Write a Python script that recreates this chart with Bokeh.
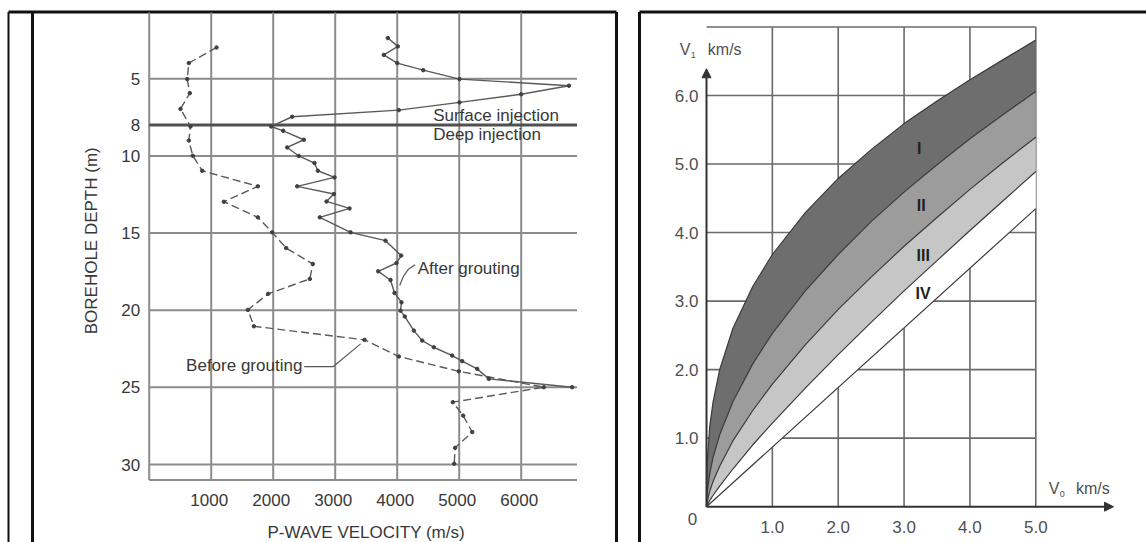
import numpy as np
from bokeh.plotting import figure
from bokeh.models import Range1d, Arrow, NormalHead
from bokeh.core.properties import value
from bokeh.embed import file_html
from bokeh.resources import INLINE

# ---------------- data: left chart (P-wave velocity vs depth) ----------------
depth_ticks = [5, 8, 10, 15, 20, 25, 30]
depth_grid = [5, 10, 15, 20, 25, 30]
injection_boundary = [8]
velocity_ticks = [1000, 2000, 3000, 4000, 5000, 6000]

before_depth = [2.97, 3.98, 5.02, 5.93, 6.95, 8.09, 9.0, 9.99, 10.96, 11.97, 12.97,
                13.98, 14.95, 15.97, 17.0, 17.97, 18.94, 19.98, 21.04, 21.92, 23.0,
                23.96, 24.99, 25.96, 26.83, 27.9, 28.92, 29.95]
before_velocity = [1086, 639, 613, 655, 505, 666, 639, 703, 855, 1752, 1204,
                   1752, 1983, 2209, 2639, 2591, 1919, 1591, 1688, 3473, 4026,
                   4994, 6365, 4897, 5064, 5210, 4935, 4919]

after_depth = [2.36, 2.9, 3.45, 3.98, 4.44, 5.02, 5.45, 6.0, 6.53, 7.03, 7.46, 8.09,
               8.37, 8.95, 9.45, 10.0, 10.46, 10.96, 11.39, 11.97, 12.47, 12.95, 13.4,
               13.98, 14.95, 15.49, 16.46, 16.94, 17.48, 18.04, 18.88, 19.49, 20.03,
               20.41, 21.32, 21.97, 22.4, 22.94, 23.3, 23.8, 24.45, 24.99]
after_velocity = [3849, 4010, 3784, 4000, 4420, 5005, 6770, 6000, 5005, 4026, 2306, 1968,
                  2161, 2494, 2226, 2413, 2666, 2720, 2989, 2387, 2978, 2860, 3231,
                  2752, 3247, 3811, 4064, 3989, 3693, 3892, 3957, 4069, 4053,
                  4123, 4268, 4403, 4590, 4887, 5048, 5290, 5477, 6822]

# ---------------- data: right chart (V1 vs V0 zones) ----------------
v0_ticks = [1.0, 2.0, 3.0, 4.0, 5.0]
v1_ticks = [1.0, 2.0, 3.0, 4.0, 5.0, 6.0]
v1_grid = [1.0, 2.0, 3.0, 4.0, 5.0, 6.0, 7.0]

boundary_v0 = [0, 0.002, 0.01, 0.05, 0.1, 0.2, 0.4, 0.7, 1.0, 1.5, 2.0, 2.5, 3.0, 3.5, 4.0, 4.5, 5.0]
top_I_v1 = [0, 0.35, 0.64, 1.18, 1.53, 2.0, 2.6, 3.21, 3.68, 4.29, 4.79, 5.21, 5.59, 5.92, 6.23, 6.52, 6.81]
I_II_v1 = [0, 0.09, 0.21, 0.49, 0.72, 1.05, 1.53, 2.08, 2.53, 3.15, 3.68, 4.16, 4.59, 4.99, 5.37, 5.72, 6.06]
II_III_v1 = [0, 0.03, 0.076, 0.23, 0.37, 0.59, 0.96, 1.4, 1.79, 2.36, 2.88, 3.35, 3.8, 4.22, 4.63, 5.02, 5.39]
III_IV_v1 = [0, 0.006, 0.023, 0.092, 0.167, 0.3, 0.55, 0.9, 1.22, 1.73, 2.22, 2.69, 3.15, 3.59, 4.03, 4.46, 4.89]
IV_low_v0 = [0, 5.0]
IV_low_v1 = [0, 4.35]

zone_names = ["I", "II", "III", "IV"]
zone_label_v0 = [3.23, 3.26, 3.29, 3.29]
zone_label_v1 = [5.23, 4.39, 3.67, 3.11]
zone_colors = ["#6e6e6e", "#9c9c9c", "#c6c6c6", "#ffffff"]

# ---------------- figure ----------------
W, H = 1146, 542
FONT = value("Liberation Sans")
TXT = "#383838"

p = figure(width=W, height=H, x_range=Range1d(0, W), y_range=Range1d(H, 0),
           output_backend="svg", toolbar_location=None, min_border=0,
           x_axis_location=None, y_axis_location=None)
p.grid.grid_line_color = None
p.outline_line_color = None
p.background_fill_color = "white"
p.border_fill_color = "white"


def pixel_range(va, pa, vb, pb, p_start, p_end):
    s = (vb - va) / (pb - pa)
    return Range1d(start=va + (p_start - pa) * s, end=va + (p_end - pa) * s)


p.extra_x_ranges = {"vel": pixel_range(0, 148.7, 6000, 520.7, 0, W),
                    "v0": pixel_range(0, 706.0, 5, 1035.3, 0, W)}
p.extra_y_ranges = {"depth": pixel_range(5, 78.3, 30, 464.0, H, 0),
                    "v1": pixel_range(0, 506.2, 6, 95.0, H, 0)}
L = dict(x_range_name="vel", y_range_name="depth")
R = dict(x_range_name="v0", y_range_name="v1")

# ---------------- panel frames ----------------
frame_x0 = [8, 32, 616, 639, 8, 639]
frame_y0 = [11.5, 11.5, 11.5, 11.5, 11.5, 11.5]
frame_x1 = [8, 32, 616, 639, 616, W]
frame_y1 = [H, H, H, H, 11.5, 11.5]
p.segment(x0=frame_x0, y0=frame_y0, x1=frame_x1, y1=frame_y1,
          line_color="#111111", line_width=[2, 3, 3, 3, 3, 3])

# ---------------- left chart ----------------
DEPTH_TOP, DEPTH_BOTTOM, VEL_MAX = 0.7, 31.0, 6900
GRID = "#8c8c8c"
n = len(velocity_ticks)
p.segment(x0=velocity_ticks, y0=[DEPTH_TOP] * n, x1=velocity_ticks, y1=[DEPTH_BOTTOM] * n,
          line_color=GRID, line_width=2, **L)
m = len(depth_grid)
p.segment(x0=[0] * m, y0=depth_grid, x1=[VEL_MAX] * m, y1=depth_grid,
          line_color=GRID, line_width=2, **L)
p.segment(x0=[0, 0], y0=[DEPTH_TOP, DEPTH_BOTTOM], x1=[0, VEL_MAX], y1=[DEPTH_BOTTOM, DEPTH_BOTTOM],
          line_color=GRID, line_width=2, **L)
p.segment(x0=[0], y0=injection_boundary, x1=[VEL_MAX], y1=injection_boundary,
          line_color="#505050", line_width=3, **L)

LINE = "#5a5a5a"
p.line(before_velocity, before_depth, line_color=LINE, line_width=1.4, line_dash="8 4", **L)
p.scatter(before_velocity, before_depth, size=3.5, color="#404040", **L)
p.line(after_velocity, after_depth, line_color=LINE, line_width=1.4, **L)
p.scatter(after_velocity, after_depth, size=3.5, color="#404040", **L)

# leaders
p.line([4290, 4180, 4100, 4040], [17.05, 17.35, 17.8, 18.4], line_color=LINE, line_width=1.2, **L)
p.line([2500, 2970, 3410], [23.65, 23.65, 22.18], line_color=LINE, line_width=1.2, **L)

tk = dict(text_font=FONT, text_font_size="17px", text_color=TXT)
p.text(x=[0] * len(depth_ticks), y=depth_ticks, text=[str(d) for d in depth_ticks],
       x_offset=-9, text_align="right", text_baseline="middle", **tk, **L)
p.text(x=velocity_ticks, y=[DEPTH_BOTTOM] * n, text=[str(v) for v in velocity_ticks],
       x_offset=-2, y_offset=20, text_align="center", text_baseline="middle", **tk, **L)
p.text(x=[VEL_MAX / 2 + 50], y=[DEPTH_BOTTOM], text=["P-WAVE VELOCITY (m/s)"], y_offset=53,
       text_align="center", text_baseline="middle", **tk, **L)
p.text(x=[0], y=[15.5], text=["BOREHOLE DEPTH (m)"], x_offset=-58, angle=np.pi / 2,
       text_align="center", text_baseline="middle", **tk, **L)

p.text(x=[4580, 4580], y=[7.39, 8.62], text=["Surface injection", "Deep injection"],
       text_align="left", text_baseline="middle", **tk, **L)
p.text(x=[4330], y=[17.32], text=["After grouting"], text_align="left", text_baseline="middle", **tk, **L)
p.text(x=[2470], y=[23.6], text=["Before grouting"], text_align="right", text_baseline="middle", **tk, **L)

# ---------------- right chart ----------------
V0_MAX, V1_MAX = 5.0, 7.0
RG = "#6a6a6a"
k = len(v0_ticks)
p.segment(x0=v0_ticks, y0=[0] * k, x1=v0_ticks, y1=[V1_MAX] * k, line_color=RG, line_width=1.6, **R)
g = len(v1_grid)
p.segment(x0=[0] * g, y0=v1_grid, x1=[V0_MAX] * g, y1=v1_grid, line_color=RG, line_width=1.6, **R)

curves = [(boundary_v0, top_I_v1), (boundary_v0, I_II_v1), (boundary_v0, II_III_v1),
          (boundary_v0, III_IV_v1), (IV_low_v0, IV_low_v1)]
for i in range(4):
    (ax, ay), (bx, by) = curves[i], curves[i + 1]
    p.patch(list(ax) + list(bx)[::-1], list(ay) + list(by)[::-1],
            fill_color=zone_colors[i], line_color=None, **R)
for cx, cy in curves:
    p.line(cx, cy, line_color="#3a3a3a", line_width=1.2, line_join="round", **R)

# axes with arrows
p.add_layout(Arrow(end=NormalHead(size=9, fill_color="#333333", line_color="#333333"),
                   x_start=0, y_start=0, x_end=0, y_end=6.39, line_color="#333333", line_width=2, **R))
p.add_layout(Arrow(end=NormalHead(size=9, fill_color="#333333", line_color="#333333"),
                   x_start=0, y_start=0, x_end=6.18, y_end=0, line_color="#333333", line_width=2, **R))

rt = dict(text_font=FONT, text_font_size="17px", text_color="#505050")
p.text(x=[0] * len(v1_ticks), y=v1_ticks, text=[f"{v:.1f}" for v in v1_ticks], x_offset=-8,
       text_align="right", text_baseline="middle", **rt, **R)
p.text(x=v0_ticks, y=[0] * k, text=[f"{v:.1f}" for v in v0_ticks], y_offset=20,
       text_align="center", text_baseline="middle", **rt, **R)
p.text(x=[0], y=[0], text=["0"], x_offset=-14, y_offset=12, text_align="center",
       text_baseline="middle", **rt, **R)

# axis names V1 / V0 km/s
an = dict(text_font=FONT, text_color="#505050", text_baseline="middle", text_align="left")
p.text(x=[-0.405], y=[6.67], text=["V"], text_font_size="16px", **an, **R)
p.text(x=[-0.405], y=[6.67], text=["1"], x_offset=11, y_offset=5, text_font_size="9px", **an, **R)
p.text(x=[0.02], y=[6.67], text=["km/s"], text_font_size="16px", **an, **R)
p.text(x=[5.197], y=[0.26], text=["V"], text_font_size="16px", **an, **R)
p.text(x=[5.197], y=[0.26], text=["0"], x_offset=11, y_offset=5, text_font_size="9px", **an, **R)
p.text(x=[5.61], y=[0.26], text=["km/s"], text_font_size="16px", **an, **R)

p.text(x=zone_label_v0, y=zone_label_v1, text=zone_names, text_font=FONT, text_font_size="16px",
       text_font_style="bold", text_color="#1e1e1e", text_align="center", text_baseline="middle", **R)

open("out.html", "w").write(file_html(p, INLINE))
